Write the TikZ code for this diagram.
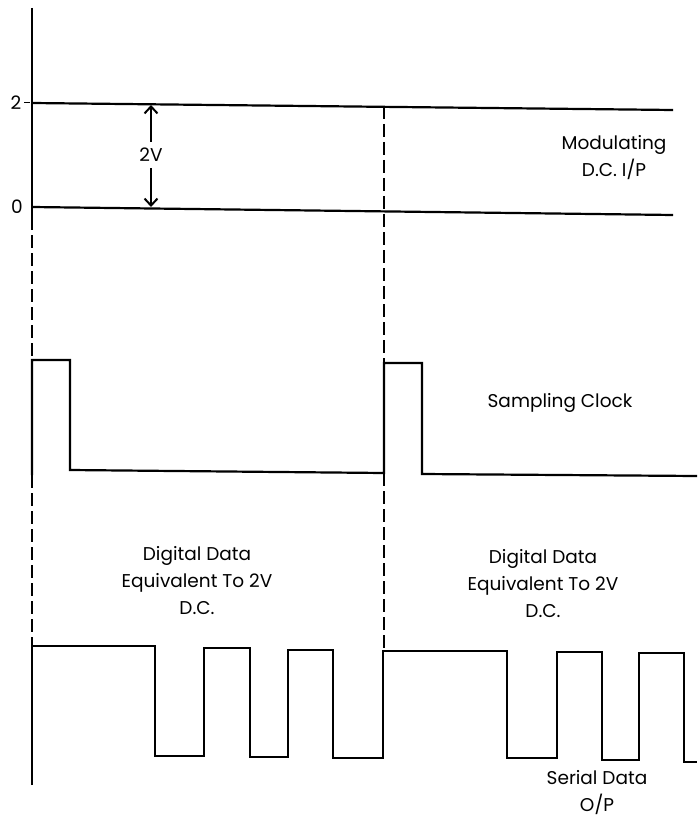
\documentclass[tikz,border=0pt]{standalone}
\usepackage{fontspec}
\setmainfont{Poppins}
\usetikzlibrary{arrows.meta}
\begin{document}
\begin{tikzpicture}[x=1pt,y=-1pt,
  wave/.style={line width=2.2pt, line join=miter},
  guide/.style={line width=2.2pt, dash pattern=on 13pt off 5pt},
  lbl/.style={font=\fontsize{18.5}{27}\selectfont, align=center, inner sep=0pt},
  dimarrow/.style={line width=2pt, -{Straight Barb[length=7pt,width=13pt]}},
]
\useasboundingbox (0,0) rectangle (697,818);
% axis and DC levels
\draw[wave] (32,8) -- (32,217);
\draw[wave] (32,103) -- (673,110);
\draw[wave] (32,207) -- (673,215);
\draw[line width=1pt] (24,103) -- (30,103);
\node[lbl] (two) at (16,103) {2};
\node[lbl] (zero) at (17,207) {0};
% 2V dimension arrow
\node[lbl] (vlbl) at (151,155) {2V};
\coordinate (vtop) at (151,105);
\coordinate (vbot) at (151,207);
\draw[dimarrow] (vlbl.north) ++(0,-6) -- (vtop);
\draw[dimarrow] (vlbl.south) ++(0,6) -- (vbot);
% dashed sampling instants
\draw[guide] (32,217) -- (32,360);
\draw[guide] (32,475) -- (32,646);
\draw[guide] (384,106) -- (384,363);
\draw[guide] (384,473) -- (384,651);
% sampling clock
\draw[wave] (32,475) -- (32,360) -- (70,360) -- (70,470) -- (384,473) -- (384,363)
  -- (422,363) -- (422,474) -- (697,476);
% serial data
\draw[wave] (32,785) -- (32,646) -- (155,646) -- (155,756) -- (204,756) -- (204,648)
  -- (250,648) -- (250,757) -- (288,757) -- (288,650) -- (333,650) -- (333,758)
  -- (383,758) -- (383,651) -- (507,651) -- (507,758) -- (557,758) -- (557,652)
  -- (602,652) -- (602,760) -- (639,760) -- (639,653) -- (684,653) -- (684,762) -- (697,762);
% labels
\node[lbl] (mod) at (614,158) {Modulating\\D.C. I/P};
\node[lbl] (clk) at (560,403) {Sampling Clock};
\node[lbl] (dd1) at (197,581) {Digital Data\\Equivalent To 2V\\D.C.};
\node[lbl] (dd2) at (543,584) {Digital Data\\Equivalent To 2V\\D.C.};
\node[lbl] (ser) at (597,793) {Serial Data\\O/P};
\end{tikzpicture}
\end{document}
